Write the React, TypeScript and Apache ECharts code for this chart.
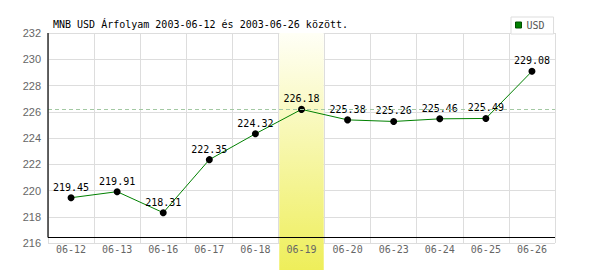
import React, { useEffect, useRef } from "react";
import * as echarts from "echarts";

const categories = ["06-12", "06-13", "06-16", "06-17", "06-18", "06-19", "06-20", "06-23", "06-24", "06-25", "06-26"];
const usdValues = [219.45, 219.91, 218.31, 222.35, 224.32, 226.18, 225.38, 225.26, 225.46, 225.49, 229.08];
const yMin = 216;
const yMax = 232;
const yStep = 2;
const highlightDate = "06-19";
const referenceValue = 226.18;
const titleText = "MNB USD Árfolyam 2003-06-12 és 2003-06-26 között.";
const seriesName = "USD";

const MONO = "'DejaVu Sans Mono', monospace";

export default function App() {
  const ref = useRef<HTMLDivElement>(null);
  useEffect(() => {
    document.body.style.margin = "0";
    if (!ref.current) return;
    const chart = echarts.init(ref.current, undefined, { renderer: "svg" });
    chart.setOption({
      animation: false,
      backgroundColor: "#fff",
      title: {
        text: titleText,
        left: 53,
        top: 19,
        padding: 0,
        textStyle: { fontFamily: MONO, fontSize: 10, fontWeight: "normal", color: "#000" },
      },
      legend: {
        data: [{ name: seriesName, itemStyle: { color: "#008000", borderColor: "#004d00", borderWidth: 1 } }],
        left: 511,
        top: 17,
        padding: [3, 9, 4, 4],
        itemWidth: 6,
        itemHeight: 6,
        icon: "rect",
        borderColor: "#ddd",
        borderWidth: 1,
        backgroundColor: "#fff",
        textStyle: { fontFamily: MONO, fontSize: 10, color: "#555" },
      },
      grid: { left: 48, right: 45, top: 33, bottom: 27 },
      xAxis: {
        type: "category",
        data: categories,
        boundaryGap: true,
        z: 2,
        axisLine: { show: false },
        axisTick: { show: false },
        axisLabel: { color: "#666", fontFamily: MONO, fontSize: 10, margin: 1, interval: 0 },
        splitLine: { show: true, interval: 0, lineStyle: { color: "#ddd", width: 1 } },
      },
      yAxis: {
        type: "value",
        min: yMin,
        max: yMax,
        interval: yStep,
        axisLine: { show: false },
        axisTick: { show: false },
        axisLabel: { color: "#666", fontFamily: "'Liberation Sans', Arial, sans-serif", fontSize: 11, margin: 7 },
        splitLine: { show: true, lineStyle: { color: "#ddd", width: 1 } },
      },
      series: [
        {
          name: seriesName,
          type: "line",
          data: usdValues,
          z: 3,
          color: "#008000",
          lineStyle: { color: "#008000", width: 1 },
          symbol: "circle",
          symbolSize: 7,
          itemStyle: { color: "#000" },
          label: {
            show: true,
            position: "top",
            distance: 2,
            color: "#000",
            fontFamily: MONO,
            fontSize: 10,
            formatter: (p: any) => Number(p.value).toFixed(2),
          },
          markLine: {
            silent: true,
            symbol: "none",
            label: { show: false },
            lineStyle: { color: "#a3c9a3", type: [4, 3], width: 1 },
            data: [{ yAxis: referenceValue }],
          },
        },
      ],
    });

    const idx = categories.indexOf(highlightDate);
    const cx = chart.convertToPixel({ xAxisIndex: 0 }, categories[idx]) as number;
    const cx2 = chart.convertToPixel({ xAxisIndex: 0 }, categories[idx + 1]) as number;
    const cw = cx2 - cx;
    const yTop = chart.convertToPixel({ yAxisIndex: 0 }, yMax) as number;
    const yBottom = chart.convertToPixel({ yAxisIndex: 0 }, yMin) as number;
    const xLeft = (chart.convertToPixel({ xAxisIndex: 0 }, categories[0]) as number) - cw / 2;
    const xRight = (chart.convertToPixel({ xAxisIndex: 0 }, categories[categories.length - 1]) as number) + cw / 2;
    const blackY = yBottom - 5.5;

    chart.setOption({
      graphic: [
        {
          type: "rect",
          z: 1,
          shape: { x: cx - cw / 2 + 0.8, y: yTop, width: cw - 1.6, height: 270 - yTop },
          style: {
            fill: new echarts.graphic.LinearGradient(0, 0, 0, 1, [
              { offset: 0, color: "#fffff6" },
              { offset: 1, color: "#eeee5a" },
            ]),
          },
        },
        {
          type: "line",
          z: 5,
          shape: { x1: xLeft, y1: yTop, x2: xLeft, y2: blackY },
          style: { stroke: "#000", lineWidth: 1.2 },
        },
        {
          type: "line",
          z: 5,
          shape: { x1: xLeft, y1: blackY, x2: xRight, y2: blackY },
          style: { stroke: "#000", lineWidth: 1.2 },
        },
      ],
    });

    return () => chart.dispose();
  }, []);
  return <div ref={ref} style={{ width: 600, height: 270 }} />;
}
